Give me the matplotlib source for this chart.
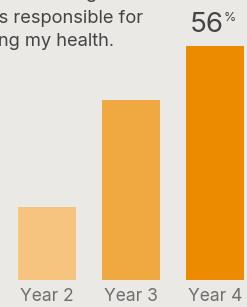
import matplotlib.pyplot as plt

# datos de las barras
years = ["Year 2", "Year 3", "Year 4"]
values = [17.5, 43, 56]
bar_colors = ["#F6C47F", "#F0A840", "#EC8A00"]
top_label = "56"

bg = "#EBE9E6"
plt.rcParams['font.family'] = ['Inter', 'DejaVu Sans']

fig = plt.figure(figsize=(2.47, 3.07), dpi=100, facecolor=bg)
ax = fig.add_axes([0, 27/307, 1, 280/307])
ax.set_facecolor(bg)

x = list(range(len(years)))
ax.bar(x, values, width=58/84, color=bar_colors)
ax.set_xlim(-47/84, 200/84)
ax.set_ylim(0, 67)

for spine in ax.spines.values():
    spine.set_visible(False)
ax.set_yticks([])
ax.set_xticks(x)
ax.set_xticklabels(years, fontsize=12.5, color="#6E6E6E")
ax.tick_params(axis='x', length=0, pad=6)

# etiqueta del valor más alto
ax.annotate(top_label, (x[-1], values[-1]), xytext=(-6, 6), textcoords='offset points',
            ha='center', va='bottom', fontsize=20, color="#444444")
ax.annotate("%", (x[-1], values[-1]), xytext=(6.5, 24.5), textcoords='offset points',
            ha='left', va='top', fontsize=9, color="#444444")

# texto de encabezado recortado a la izquierda
lineas = ["I think the doctor I am seeing",
          "My doctor is responsible for",
          "managing my health."]
ends = [97, 143, 114]
baselines = [-2, 23, 46]
for txt, xe, yb in zip(lineas, ends, baselines):
    fig.text(xe/247, 1 - yb/307, txt, ha='right', va='baseline',
             fontsize=13.2, color="#444444")

fig.savefig("out.png", dpi=100, facecolor=bg)
